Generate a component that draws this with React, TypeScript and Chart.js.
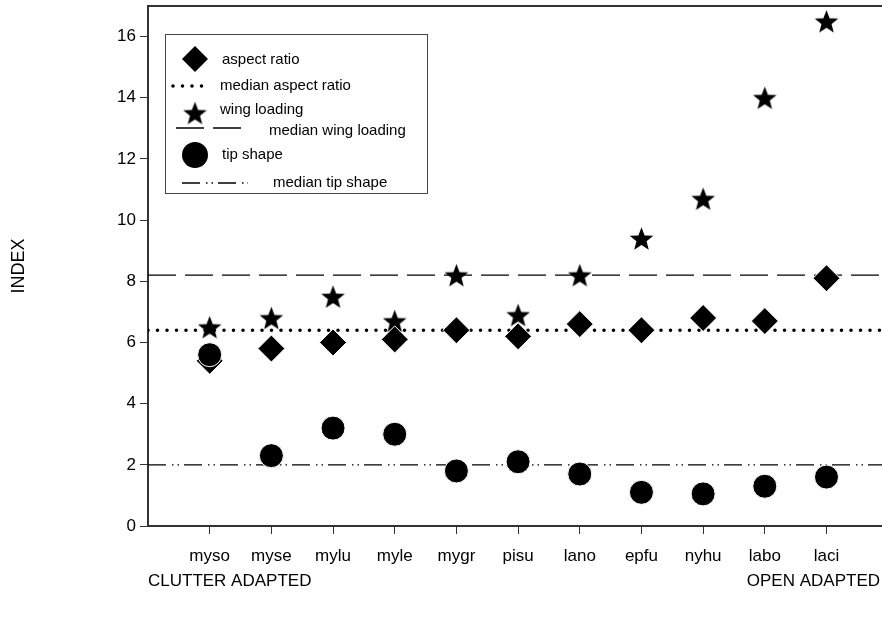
import { useEffect, useRef } from 'react';
import { Chart, registerables } from 'chart.js';
import { drawPoint } from 'chart.js/helpers';

Chart.register(...registerables);

// Species codes along the x axis, clutter adapted (left) to open adapted (right)
const species = ['myso', 'myse', 'mylu', 'myle', 'mygr', 'pisu', 'lano', 'epfu', 'nyhu', 'labo', 'laci'];

// Wing morphology indices per species
const aspectRatio = [5.4, 5.8, 6.0, 6.1, 6.4, 6.2, 6.6, 6.4, 6.8, 6.7, 8.1];
const wingLoading = [6.5, 6.8, 7.5, 6.7, 8.2, 6.9, 8.2, 9.4, 10.7, 14.0, 16.5];
const tipShape = [5.6, 2.3, 3.2, 3.0, 1.8, 2.1, 1.7, 1.1, 1.05, 1.3, 1.6];

// Reference medians drawn as horizontal lines
const medianAspectRatio = 6.4;
const medianWingLoading = 8.2;
const medianTipShape = 2.0;

const yTickValues = [0, 2, 4, 6, 8, 10, 12, 14, 16];
const xMin = 0;
const xMax = 11.9;

const FONT = '"Liberation Sans", Arial, Helvetica, sans-serif';
const INK = '#000000';
const FRAME = '#333333';

// Filled five-pointed star used as a point style
function makeStar(outer: number, inner: number): HTMLCanvasElement {
  const size = Math.ceil(outer * 2 + 2);
  const c = document.createElement('canvas');
  c.width = size;
  c.height = size;
  const g = c.getContext('2d')!;
  const cx = size / 2;
  const cy = size / 2 + outer * (1 - Math.cos(Math.PI / 5)) / 2;
  g.beginPath();
  for (let i = 0; i < 10; i++) {
    const r = i % 2 === 0 ? outer : inner;
    const a = -Math.PI / 2 + (i * Math.PI) / 5;
    const px = cx + r * Math.cos(a);
    const py = cy + r * Math.sin(a);
    if (i === 0) g.moveTo(px, py);
    else g.lineTo(px, py);
  }
  g.closePath();
  g.fillStyle = INK;
  g.fill();
  return c;
}

const dottedDash = [0, 9.5];
const dashedDash = [28, 9];
const dashDotDotDash = [18, 6, 1.5, 4, 1.5, 5];

const toPoints = (values: number[]) => values.map((y, i) => ({ x: i + 1, y }));
const hLine = (y: number) => [
  { x: xMin, y },
  { x: xMax, y },
];

// Top edge of the plotting frame
const framePlugin = {
  id: 'frameTop',
  afterDraw(chart: any) {
    const { ctx, chartArea } = chart;
    ctx.save();
    ctx.strokeStyle = FRAME;
    ctx.lineWidth = 2;
    ctx.beginPath();
    ctx.moveTo(chartArea.left - 1, chartArea.top);
    ctx.lineTo(chartArea.right, chartArea.top);
    ctx.stroke();
    ctx.restore();
  },
};

// Group captions under the category axis
const captionPlugin = {
  id: 'groupCaptions',
  afterDraw(chart: any) {
    const { ctx, chartArea } = chart;
    ctx.save();
    ctx.fillStyle = INK;
    ctx.font = `17px ${FONT}`;
    ctx.textBaseline = 'middle';
    ctx.textAlign = 'left';
    ctx.fillText('CLUTTER ADAPTED', chartArea.left, 581);
    ctx.textAlign = 'right';
    ctx.fillText('OPEN ADAPTED', chartArea.right - 2, 581);
    ctx.restore();
  },
};

// Boxed legend inside the plotting area
const boxLegendPlugin = {
  id: 'boxLegend',
  afterDatasetsDraw(chart: any) {
    const { ctx, chartArea } = chart;
    const ds = chart.data.datasets;
    const left = chartArea.left + 17;
    const top = chartArea.top + 28;
    const right = left + 262;
    const bottom = top + 159;

    ctx.save();
    ctx.fillStyle = '#ffffff';
    ctx.fillRect(left, top, right - left, bottom - top);
    ctx.strokeStyle = '#444444';
    ctx.lineWidth = 1;
    ctx.strokeRect(left + 0.5, top + 0.5, right - left, bottom - top);

    const markerX = left + 30;
    const marker = (d: any, y: number, radius: number) => {
      ctx.save();
      ctx.fillStyle = d.pointBackgroundColor;
      ctx.strokeStyle = d.pointBorderColor;
      ctx.lineWidth = 0;
      drawPoint(ctx, { pointStyle: d.pointStyle, radius, rotation: 0, borderWidth: 0 }, markerX, y);
      ctx.restore();
    };
    const sample = (d: any, x0: number, x1: number, y: number) => {
      ctx.save();
      ctx.strokeStyle = d.borderColor;
      ctx.lineWidth = d.borderWidth;
      ctx.lineCap = d.borderCapStyle || 'butt';
      ctx.setLineDash(d.borderDash || []);
      ctx.beginPath();
      ctx.moveTo(x0, y);
      ctx.lineTo(x1, y);
      ctx.stroke();
      ctx.restore();
    };
    const label = (text: string, x: number, y: number) => {
      ctx.fillStyle = INK;
      ctx.font = `15px ${FONT}`;
      ctx.textAlign = 'left';
      ctx.textBaseline = 'middle';
      ctx.fillText(text, x, y);
    };

    marker(ds[0], top + 25, 13);
    label(ds[0].label, left + 57, top + 26);

    sample(ds[3], left + 8, left + 46, top + 52);
    label(ds[3].label, left + 55, top + 52);

    marker(ds[1], top + 79, 12);
    label(ds[1].label, left + 55, top + 76);

    sample(ds[4], left + 11, left + 76, top + 94);
    label(ds[4].label, left + 104, top + 97);

    marker(ds[2], top + 121, 13);
    label(ds[2].label, left + 57, top + 121);

    sample(ds[5], left + 17, left + 83, top + 149);
    label(ds[5].label, left + 108, top + 149);

    ctx.restore();
  },
};

export default function App() {
  const canvasRef = useRef<HTMLCanvasElement | null>(null);

  useEffect(() => {
    const canvas = canvasRef.current;
    if (!canvas) return;
    const star = makeStar(12.4, 5.3);

    const chart = new Chart(canvas, {
      type: 'scatter',
      data: {
        datasets: [
          {
            type: 'scatter',
            label: 'aspect ratio',
            data: toPoints(aspectRatio),
            pointStyle: 'rectRot',
            pointRadius: 13.5,
            pointBackgroundColor: INK,
            pointBorderColor: '#ffffff',
            pointBorderWidth: 1,
            order: 2,
          },
          {
            type: 'scatter',
            label: 'wing loading',
            data: toPoints(wingLoading),
            pointStyle: star,
            pointRadius: 12,
            pointBackgroundColor: INK,
            pointBorderColor: INK,
            pointBorderWidth: 0,
            order: 3,
          },
          {
            type: 'scatter',
            label: 'tip shape',
            data: toPoints(tipShape),
            pointStyle: 'circle',
            pointRadius: 12,
            pointBackgroundColor: INK,
            pointBorderColor: '#ffffff',
            pointBorderWidth: 1,
            order: 1,
          },
          {
            type: 'line',
            label: 'median aspect ratio',
            data: hLine(medianAspectRatio),
            borderColor: INK,
            borderWidth: 3.6,
            borderCapStyle: 'round',
            borderDash: dottedDash,
            pointRadius: 0,
            order: 10,
          },
          {
            type: 'line',
            label: 'median wing loading',
            data: hLine(medianWingLoading),
            borderColor: INK,
            borderWidth: 1.3,
            borderDash: dashedDash,
            pointRadius: 0,
            order: 10,
          },
          {
            type: 'line',
            label: 'median tip shape',
            data: hLine(medianTipShape),
            borderColor: INK,
            borderWidth: 1.3,
            borderDash: dashDotDotDash,
            pointRadius: 0,
            order: 10,
          },
        ],
      },
      options: {
        animation: false,
        responsive: false,
        maintainAspectRatio: false,
        events: [],
        layout: { autoPadding: false, padding: { left: 0, right: 0, top: 6, bottom: 0 } },
        plugins: {
          legend: { display: false },
          tooltip: { enabled: false },
          title: { display: false },
        },
        scales: {
          x: {
            type: 'linear',
            position: 'bottom',
            min: xMin,
            max: xMax,
            afterBuildTicks: (scale: any) => {
              scale.ticks = species.map((_, i) => ({ value: i + 1 }));
            },
            afterFit: (scale: any) => {
              scale.height = 97;
              scale.paddingLeft = 0;
              scale.paddingRight = 0;
            },
            ticks: {
              autoSkip: false,
              maxRotation: 0,
              padding: 12,
              color: INK,
              font: { family: FONT, size: 17 },
              callback: (v: any) => species[Math.round(Number(v)) - 1] ?? '',
            },
            grid: {
              display: true,
              drawOnChartArea: false,
              drawTicks: true,
              tickLength: 8,
              color: FRAME,
              lineWidth: 1,
            },
            border: { display: true, color: FRAME, width: 2 },
          },
          y: {
            type: 'linear',
            position: 'left',
            min: 0,
            max: 17,
            afterBuildTicks: (scale: any) => {
              scale.ticks = yTickValues.map((value) => ({ value }));
            },
            afterFit: (scale: any) => {
              scale.width = 148;
              scale.paddingTop = 0;
              scale.paddingBottom = 0;
            },
            ticks: {
              padding: 4,
              color: INK,
              font: { family: FONT, size: 17 },
            },
            grid: {
              display: true,
              drawOnChartArea: false,
              drawTicks: true,
              tickLength: 8,
              color: FRAME,
              lineWidth: 1,
            },
            border: { display: true, color: FRAME, width: 2 },
            title: {
              display: true,
              text: 'INDEX',
              color: INK,
              font: { family: FONT, size: 18 },
              padding: { top: 8, bottom: 0 },
            },
          },
        },
      },
      plugins: [framePlugin, captionPlugin, boxLegendPlugin],
    } as any);

    return () => chart.destroy();
  }, []);

  return (
    <div style={{ position: 'absolute', left: 0, top: 0, width: 882, height: 623, background: '#ffffff' }}>
      <canvas ref={canvasRef} width={882} height={623} style={{ display: 'block' }} />
    </div>
  );
}
